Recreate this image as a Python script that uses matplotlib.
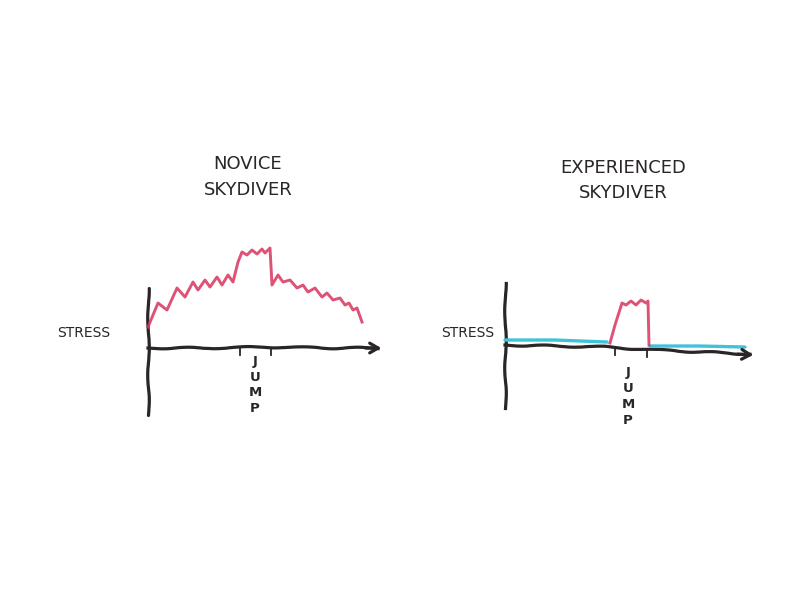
import matplotlib
matplotlib.use("Agg")
import matplotlib.pyplot as plt

# novice skydiver stress trace (time, stress), arbitrary units
novice_t = [0, 10, 19, 29, 37, 45, 50, 57, 62, 69, 74, 80, 85, 90,
            94, 99, 104, 109, 114, 117, 122,
            124, 130, 135, 142, 149, 155, 160, 167, 174, 179, 185, 192,
            197, 201, 205, 209, 214]
novice_s = [21, 45, 38, 60, 51, 66, 58, 68, 61, 71, 63, 73, 66, 86,
            96, 93, 98, 94, 99, 95, 100,
            63, 73, 66, 68, 60, 63, 56, 60, 51, 55, 48, 50,
            43, 45, 38, 40, 26]
novice_jump = [92, 123]

# experienced skydiver: calm before, spike at the jump, calm after
exp_before_t = [0, 50, 102]
exp_before_s = [5, 5, 3]
exp_jump_t = [105, 110, 117, 121, 126, 131, 136, 141, 143, 144]
exp_jump_s = [2, 20, 42, 40, 44, 40, 45, 42, 44, 0]
exp_after_t = [145, 195, 240]
exp_after_s = [-1, -1, -2]
exp_jump = [110, 142]

ink = "#2a2526"
red = "#d9345d"
cyan = "#3fc3d8"
font = "DejaVu Sans"

fig = plt.figure(figsize=(8, 6), dpi=100, facecolor="white")


def hand(line, scale=0.8, length=60, rand=2):
    line.set_sketch_params(scale, length, rand)
    return line


def panel(rect, xlim, ylim):
    ax = fig.add_axes(rect)
    ax.set_xlim(*xlim)
    ax.set_ylim(*ylim)
    ax.axis("off")
    return ax


# ---- left panel: novice
ax1 = panel([0.125, 0.2833, 0.375, 0.5], (-48, 252), (-82, 218))
hand(ax1.plot([0, 0], [-67, 60], color=ink, lw=2.3, solid_capstyle="round")[0])
hand(ax1.plot([0, 60, 120, 180, 230], [0, 0, 1, 0, 0], color=ink, lw=2.3)[0])
ax1.annotate("", xy=(236, 0), xytext=(215, 0),
             arrowprops=dict(arrowstyle="->,head_length=0.6,head_width=0.35",
                             color=ink, lw=2.3))
for t in novice_jump:
    ax1.plot([t, t], [0, -7], color=ink, lw=1.3)
ax1.plot(novice_t, novice_s, color=red, lw=2.1, solid_joinstyle="round", alpha=0.85)
ax1.text(107, -37, "J\nU\nM\nP", ha="center", va="center", fontsize=9.5,
         family=font, fontweight="bold", color=ink, linespacing=1.25)
ax1.text(-64, 15, "STRESS", ha="center", va="center", fontsize=10,
         family=font, color=ink)
ax1.text(100, 171, "NOVICE\nSKYDIVER", ha="center", va="center", fontsize=13,
         family=font, color=ink, linespacing=1.55)

# ---- right panel: experienced
ax2 = panel([0.575, 0.2833, 0.375, 0.5], (-45, 255), (-85, 215))
hand(ax2.plot([0, 0], [-63, 62], color=ink, lw=2.3)[0])
hand(ax2.plot([0, 100, 150, 245], [0, -2, -5, -9], color=ink, lw=2.3)[0])
ax2.annotate("", xy=(251, -10), xytext=(230, -9),
             arrowprops=dict(arrowstyle="->,head_length=0.6,head_width=0.35",
                             color=ink, lw=2.3))
for t, y0 in zip(exp_jump, [-3, -5]):
    ax2.plot([t, t], [y0, y0 - 7], color=ink, lw=1.3)
ax2.plot(exp_before_t, exp_before_s, color=cyan, lw=2.4, solid_capstyle="round")
ax2.plot(exp_after_t, exp_after_s, color=cyan, lw=2.4, solid_capstyle="round")
ax2.plot(exp_jump_t, exp_jump_s, color=red, lw=2.1, solid_joinstyle="round", alpha=0.85)
ax2.text(123, -51, "J\nU\nM\nP", ha="center", va="center", fontsize=9.5,
         family=font, fontweight="bold", color=ink, linespacing=1.3)
ax2.text(-37, 12, "STRESS", ha="center", va="center", fontsize=10,
         family=font, color=ink)
ax2.text(118, 165, "EXPERIENCED\nSKYDIVER", ha="center", va="center", fontsize=13,
         family=font, color=ink, linespacing=1.5)

fig.savefig("out.png", dpi=100, facecolor="white")
